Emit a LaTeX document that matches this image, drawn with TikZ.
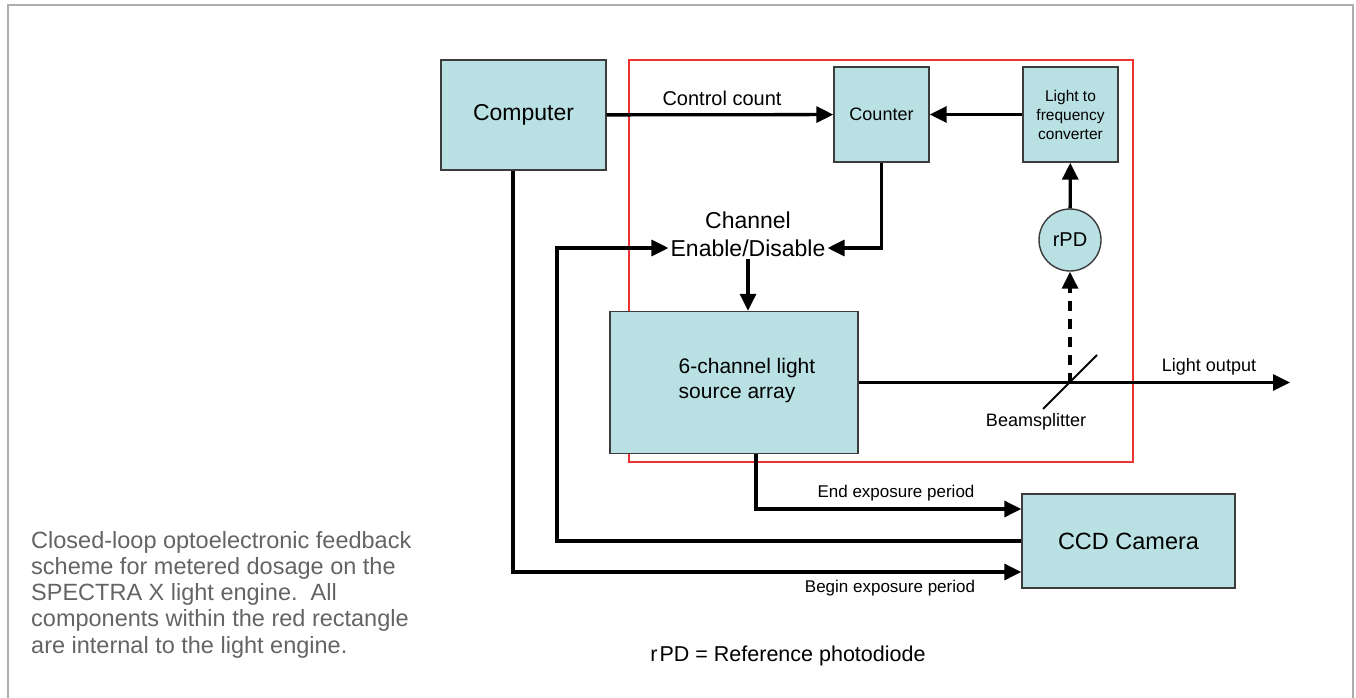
\documentclass[tikz,border=0pt]{standalone}
\usepackage{fontspec}
\setmainfont{Liberation Sans}
\usetikzlibrary{arrows.meta}

\definecolor{boxfill}{RGB}{185,224,227}
\definecolor{boxline}{RGB}{60,60,60}
\definecolor{enginered}{RGB}{238,50,50}
\definecolor{framegray}{RGB}{173,173,173}
\definecolor{capgray}{RGB}{100,100,100}

\tikzset{
  unit/.style={draw=boxline, fill=boxfill, line width=1.4pt, inner sep=2pt, align=center},
  sig/.style={line width=3.3pt, -{Triangle[length=17pt,width=16pt]}},
  tag/.style={inner sep=0pt, align=center}
}

\begin{document}
\begin{tikzpicture}[x=1pt,y=-1pt]
\useasboundingbox (0,0) rectangle (1356,698);

% outer frame
\draw [framegray, line width=2pt] (8,698) -- (8,5) -- (1353,5) -- (1353,698);

% light engine boundary
\draw [enginered, line width=1.3pt] (629,60) rectangle (1133,462);

% Blocks
\node [unit, minimum width=165pt, minimum height=110pt, font=\fontsize{23}{28}\selectfont] (computer) at (523.5,115) {Computer};
\node [unit, minimum width=95pt, minimum height=95pt, font=\fontsize{18}{22}\selectfont] (counter) at (881.5,114.5) {Counter};
\node [unit, minimum width=95pt, minimum height=95pt, font=\fontsize{15.5}{19}\selectfont] (ltf) at (1070.5,114.5) {Light to\\frequency\\converter};
\node [unit, circle, minimum size=62pt, font=\fontsize{20}{24}\selectfont] (rpd) at (1070,240) {rPD};
\node [unit, minimum width=248pt, minimum height=142pt,
  label={[xshift=13pt, yshift=2pt, align=left, font=\fontsize{21}{25}\selectfont]center:6-channel light\\source array}] (sixch) at (734,382.5) {};
\node [unit, minimum width=213pt, minimum height=94pt, font=\fontsize{23.5}{28}\selectfont] (ccd) at (1128.5,541) {CCD Camera};
\node [inner sep=2pt, align=center, font=\fontsize{23}{28}\selectfont] (chan) at (748,234) {Channel\\Enable/Disable};

% beam path
\coordinate (bs) at (1070,382.5);
\coordinate (lightout) at (1290,382.5);
\coordinate (loop) at (557,541);
\draw [line width=1.8pt] (1043,409) -- (1097,355);

% Connectors
\draw [sig] (computer) -- (counter);
\draw [sig] (ltf) -- (counter);
\draw [sig] (rpd) -- (ltf);
\draw [sig, dash pattern=on 10pt off 8pt] (bs) -- (rpd);
\draw [sig] (sixch.east |- bs) -- (lightout);
\draw [sig] (counter.south) |- ([yshift=-14pt]chan.east);
\draw [sig] (chan.south) -- (chan.south |- sixch.north);
\draw [sig] (ccd.west) -- (loop) |- ([yshift=-14pt]chan.west);
\draw [sig] ([xshift=22pt]sixch.south) |- ([yshift=32pt]ccd.west);
\draw [sig] ([xshift=-10.5pt]computer.south) |- ([yshift=-31pt]ccd.west);

% Text Nodes
\node [tag, font=\fontsize{20}{24}\selectfont] (ctrl) at (722,98) {Control count};
\node [tag, font=\fontsize{18}{22}\selectfont] (outlbl) at (1209,367) {Light output};
\node [tag, font=\fontsize{18}{22}\selectfont] (bslbl) at (1036,422) {Beamsplitter};
\node [tag, font=\fontsize{17}{20}\selectfont] (endlbl) at (896,493) {End exposure period};
\node [tag, font=\fontsize{17}{20}\selectfont] (beglbl) at (890,588) {Begin exposure period};
\node [tag, font=\fontsize{21.5}{26}\selectfont] (legend) at (788,656) {r\kern2pt PD = Reference photodiode};

% caption
\node [anchor=north west, inner sep=0pt, align=left, text=capgray, font=\fontsize{23.5}{26.2}\selectfont] (caption) at (31,531)
  {Closed-loop optoelectronic feedback\\scheme for metered dosage on the\\SPECTRA X light engine.\ \ All\\components within the red rectangle\\are internal to the light engine.};

\end{tikzpicture}
\end{document}
